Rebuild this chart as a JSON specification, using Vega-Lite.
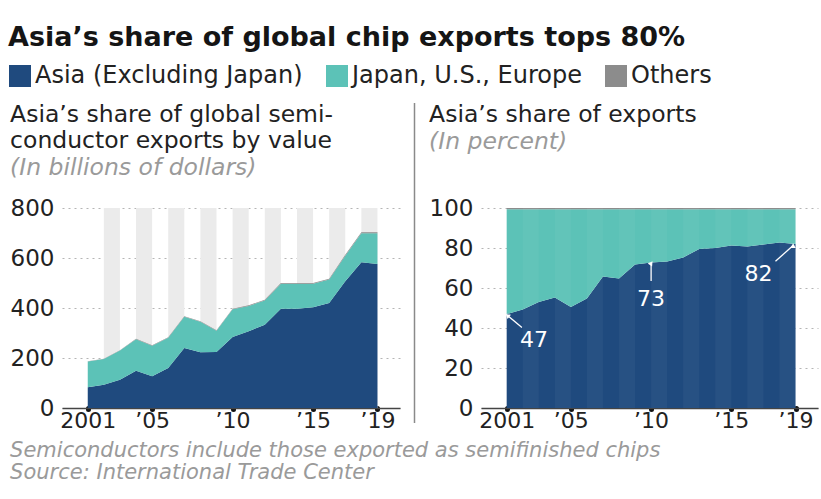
{
  "$schema": "https://vega.github.io/schema/vega-lite/v6.json",
  "padding": {"left": 8, "top": 24, "right": 4, "bottom": 4},
  "background": "white",
  "title": {
    "text": "Asia’s share of global chip exports tops 80%",
    "anchor": "start", "frame": "bounds",
    "fontSize": 27, "fontWeight": "bold", "color": "#151515", "offset": 12
  },
  "datasets": {
    "exports": [
      {"year": 2001, "region": "Asia (Excluding Japan)", "value": 83, "share": 47.0},
      {"year": 2001, "region": "Japan, U.S., Europe", "value": 102.9, "share": 52.4},
      {"year": 2001, "region": "Others", "value": 1.1, "share": 0.6},
      {"year": 2002, "region": "Asia (Excluding Japan)", "value": 93, "share": 49.2},
      {"year": 2002, "region": "Japan, U.S., Europe", "value": 102.8, "share": 50.2},
      {"year": 2002, "region": "Others", "value": 1.2, "share": 0.6},
      {"year": 2003, "region": "Asia (Excluding Japan)", "value": 113, "share": 53.0},
      {"year": 2003, "region": "Japan, U.S., Europe", "value": 116.6, "share": 46.4},
      {"year": 2003, "region": "Others", "value": 1.4, "share": 0.6},
      {"year": 2004, "region": "Asia (Excluding Japan)", "value": 149, "share": 55.3},
      {"year": 2004, "region": "Japan, U.S., Europe", "value": 126.3, "share": 44.1},
      {"year": 2004, "region": "Others", "value": 1.7, "share": 0.6},
      {"year": 2005, "region": "Asia (Excluding Japan)", "value": 127, "share": 50.5},
      {"year": 2005, "region": "Japan, U.S., Europe", "value": 122.5, "share": 48.9},
      {"year": 2005, "region": "Others", "value": 1.5, "share": 0.6},
      {"year": 2006, "region": "Asia (Excluding Japan)", "value": 160, "share": 54.7},
      {"year": 2006, "region": "Japan, U.S., Europe", "value": 121.3, "share": 44.7},
      {"year": 2006, "region": "Others", "value": 1.7, "share": 0.6},
      {"year": 2007, "region": "Asia (Excluding Japan)", "value": 240, "share": 65.8},
      {"year": 2007, "region": "Japan, U.S., Europe", "value": 124.8, "share": 33.6},
      {"year": 2007, "region": "Others", "value": 2.2, "share": 0.6},
      {"year": 2008, "region": "Asia (Excluding Japan)", "value": 223, "share": 64.7},
      {"year": 2008, "region": "Japan, U.S., Europe", "value": 121.9, "share": 34.7},
      {"year": 2008, "region": "Others", "value": 2.1, "share": 0.6},
      {"year": 2009, "region": "Asia (Excluding Japan)", "value": 224, "share": 71.7},
      {"year": 2009, "region": "Japan, U.S., Europe", "value": 85.1, "share": 27.7},
      {"year": 2009, "region": "Others", "value": 1.9, "share": 0.6},
      {"year": 2010, "region": "Asia (Excluding Japan)", "value": 284, "share": 72.8},
      {"year": 2010, "region": "Japan, U.S., Europe", "value": 110.6, "share": 26.6},
      {"year": 2010, "region": "Others", "value": 2.4, "share": 0.6},
      {"year": 2011, "region": "Asia (Excluding Japan)", "value": 307, "share": 73.3},
      {"year": 2011, "region": "Japan, U.S., Europe", "value": 101.5, "share": 26.1},
      {"year": 2011, "region": "Others", "value": 2.5, "share": 0.6},
      {"year": 2012, "region": "Asia (Excluding Japan)", "value": 333, "share": 75.3},
      {"year": 2012, "region": "Japan, U.S., Europe", "value": 97.4, "share": 24.1},
      {"year": 2012, "region": "Others", "value": 2.6, "share": 0.6},
      {"year": 2013, "region": "Asia (Excluding Japan)", "value": 397, "share": 79.5},
      {"year": 2013, "region": "Japan, U.S., Europe", "value": 100, "share": 19.9},
      {"year": 2013, "region": "Others", "value": 3.0, "share": 0.6},
      {"year": 2014, "region": "Asia (Excluding Japan)", "value": 397, "share": 80.0},
      {"year": 2014, "region": "Japan, U.S., Europe", "value": 100, "share": 19.4},
      {"year": 2014, "region": "Others", "value": 3.0, "share": 0.6},
      {"year": 2015, "region": "Asia (Excluding Japan)", "value": 403, "share": 81.2},
      {"year": 2015, "region": "Japan, U.S., Europe", "value": 94, "share": 18.2},
      {"year": 2015, "region": "Others", "value": 3.0, "share": 0.6},
      {"year": 2016, "region": "Asia (Excluding Japan)", "value": 420, "share": 80.8},
      {"year": 2016, "region": "Japan, U.S., Europe", "value": 93.9, "share": 18.6},
      {"year": 2016, "region": "Others", "value": 3.1, "share": 0.6},
      {"year": 2017, "region": "Asia (Excluding Japan)", "value": 507, "share": 81.7},
      {"year": 2017, "region": "Japan, U.S., Europe", "value": 102.3, "share": 17.7},
      {"year": 2017, "region": "Others", "value": 3.7, "share": 0.6},
      {"year": 2018, "region": "Asia (Excluding Japan)", "value": 583, "share": 82.8},
      {"year": 2018, "region": "Japan, U.S., Europe", "value": 115.8, "share": 16.6},
      {"year": 2018, "region": "Others", "value": 4.2, "share": 0.6},
      {"year": 2019, "region": "Asia (Excluding Japan)", "value": 576, "share": 82.0},
      {"year": 2019, "region": "Japan, U.S., Europe", "value": 122.8, "share": 17.4},
      {"year": 2019, "region": "Others", "value": 4.2, "share": 0.6}
    ],
    "stripes": [
      {"start": 2002, "end": 2003},
      {"start": 2004, "end": 2005},
      {"start": 2006, "end": 2007},
      {"start": 2008, "end": 2009},
      {"start": 2010, "end": 2011},
      {"start": 2012, "end": 2013},
      {"start": 2014, "end": 2015},
      {"start": 2016, "end": 2017},
      {"start": 2018, "end": 2019}
    ],
    "notes": [
      {"label": "47", "tipYear": 2001.05, "tipValue": 46.3, "tailYear": 2001.95, "tailValue": 40.2, "textYear": 2002.7, "textValue": 34},
      {"label": "73", "tipYear": 2010, "tipValue": 71.8, "tailYear": 2010, "tailValue": 63.5, "textYear": 2010, "textValue": 54.5},
      {"label": "82", "tipYear": 2018.85, "tipValue": 81.2, "tailYear": 2017.75, "tailValue": 73.4, "textYear": 2016.7, "textValue": 66.8}
    ],
    "divider": [
      {"bottom": -7.5, "top": 152.5}
    ]
  },
  "vconcat": [
    {
      "title": {
        "text": ["Semiconductors include those exported as semifinished chips", "Source: International Trade Center"],
        "orient": "bottom", "anchor": "start", "frame": "bounds",
        "fontSize": 21, "fontStyle": "italic", "fontWeight": "normal",
        "color": "#9a9a9a", "lineHeight": 22, "offset": 9
      },
      "spacing": 13,
      "hconcat": [
        {
          "width": 338, "height": 200,
          "title": {
            "text": ["Asia’s share of global semi-", "conductor exports by value"],
            "subtitle": "(In billions of dollars)",
            "offset": 18
          },
          "layer": [
            {
              "data": {"name": "stripes"},
              "mark": {"type": "rect", "color": "#ebebeb"},
              "encoding": {
                "x": {"field": "start", "type": "quantitative"},
                "x2": {"field": "end"}
              }
            },
            {
              "data": {"name": "exports"},
              "mark": {"type": "area", "interpolate": "linear"},
              "encoding": {
                "x": {
                  "field": "year", "type": "quantitative",
                  "scale": {"domain": [1999.4, 2020.4], "nice": false, "zero": false},
                  "axis": {
                    "values": [2001, 2005, 2010, 2015, 2019],
                    "labelExpr": "datum.value == 2001 ? '2001' : '’' + substring(toString(datum.value), 2)",
                    "title": null, "grid": false, "labelOverlap": false
                  }
                },
                "y": {
                  "field": "value", "type": "quantitative", "stack": "zero",
                  "scale": {"domain": [0, 800], "nice": false},
                  "axis": {"values": [0, 200, 400, 600, 800], "title": null, "grid": true, "domain": false, "ticks": false, "labelOverlap": false, "labelFontSize": 23}
                },
                "color": {
                  "field": "region", "type": "nominal",
                  "scale": {"domain": ["Asia (Excluding Japan)", "Japan, U.S., Europe", "Others"], "range": ["#1f4a7e", "#5cc2b7", "#8c8c8c"]},
                  "legend": {
                    "orient": "none", "legendX": -54, "legendY": -144,
                    "direction": "horizontal", "title": null,
                    "symbolType": "square", "symbolSize": 484, "symbolStrokeWidth": 0, "symbolOpacity": 1,
                    "labelFontSize": 24, "labelColor": "#222", "labelOffset": 3, "labelLimit": 0,
                    "columnPadding": 22
                  }
                },
                "order": {"field": "region", "sort": "ascending"}
              }
            }
          ]
        },
        {
          "width": 1, "height": 200,
          "data": {"name": "divider"},
          "mark": {"type": "rule", "color": "#8a8a8a", "strokeWidth": 1.5, "clip": false},
          "encoding": {
            "y": {"field": "bottom", "type": "quantitative", "scale": {"domain": [0, 100], "nice": false}, "axis": null},
            "y2": {"field": "top"}
          }
        },
        {
          "width": 337, "height": 200,
          "title": {
            "text": "Asia’s share of exports",
            "subtitle": ["(In percent)", " "],
            "offset": 18
          },
          "layer": [
            {
              "data": {"name": "exports"},
              "mark": {"type": "area", "interpolate": "linear"},
              "encoding": {
                "x": {
                  "field": "year", "type": "quantitative",
                  "scale": {"domain": [1999.4, 2020.4], "nice": false, "zero": false},
                  "axis": {
                    "values": [2001, 2005, 2010, 2015, 2019],
                    "labelExpr": "datum.value == 2001 ? '2001' : '’' + substring(toString(datum.value), 2)",
                    "title": null, "grid": false, "labelOverlap": false
                  }
                },
                "y": {
                  "field": "share", "type": "quantitative", "stack": "zero",
                  "scale": {"domain": [0, 100], "nice": false},
                  "axis": {"values": [0, 20, 40, 60, 80, 100], "tickCount": 6, "title": null, "grid": true, "domain": false, "ticks": false, "labelOverlap": false, "labelFontSize": 23}
                },
                "color": {"field": "region", "type": "nominal"},
                "order": {"field": "region", "sort": "ascending"}
              }
            },
            {
              "data": {"name": "stripes"},
              "mark": {"type": "rect", "color": "white", "opacity": 0.04},
              "encoding": {
                "x": {"field": "start", "type": "quantitative"},
                "x2": {"field": "end"}
              }
            },
            {
              "data": {"name": "notes"},
              "mark": {"type": "rule", "color": "white", "strokeWidth": 1.3},
              "encoding": {
                "x": {"field": "tailYear", "type": "quantitative"},
                "y": {"field": "tailValue", "type": "quantitative", "axis": {"values": [0, 20, 40, 60, 80, 100], "tickCount": 6, "title": null, "grid": true, "domain": false, "ticks": false, "labelOverlap": false, "labelFontSize": 23}},
                "x2": {"field": "tipYear"},
                "y2": {"field": "tipValue"}
              }
            },
            {
              "data": {"name": "notes"},
              "mark": {"type": "point", "shape": "triangle-up", "filled": true, "color": "white", "opacity": 1, "size": 28},
              "encoding": {
                "x": {"field": "tipYear", "type": "quantitative"},
                "y": {"field": "tipValue", "type": "quantitative", "axis": {"values": [0, 20, 40, 60, 80, 100], "tickCount": 6, "title": null, "grid": true, "domain": false, "ticks": false, "labelOverlap": false, "labelFontSize": 23}},
                "angle": {"field": "label", "type": "nominal", "scale": {"domain": ["47", "73", "82"], "range": [310, 0, 49]}, "legend": null}
              }
            },
            {
              "data": {"name": "notes"},
              "mark": {"type": "text", "color": "white", "fontSize": 22, "align": "center", "baseline": "middle"},
              "encoding": {
                "x": {"field": "textYear", "type": "quantitative"},
                "y": {"field": "textValue", "type": "quantitative", "axis": {"values": [0, 20, 40, 60, 80, 100], "tickCount": 6, "title": null, "grid": true, "domain": false, "ticks": false, "labelOverlap": false, "labelFontSize": 23}},
                "text": {"field": "label"}
              }
            }
          ]
        }
      ]
    }
  ],
  "config": {
    "font": "DejaVu Sans",
    "view": {"stroke": null},
    "concat": {"spacing": 4},
    "title": {
      "anchor": "start", "frame": "bounds",
      "fontSize": 23.5, "fontWeight": "normal", "color": "#222", "lineHeight": 26,
      "subtitleFontSize": 23.5, "subtitleFontStyle": "italic", "subtitleColor": "#9a9a9a",
      "subtitleLineHeight": 26, "subtitlePadding": 0
    },
    "axis": {
      "labelFont": "DejaVu Sans", "labelFontSize": 22, "labelColor": "#222",
      "gridColor": "#b5b5b5", "gridDash": [2, 4], "gridWidth": 1,
      "labelPadding": 8, "labelOverlap": false, "labelBound": false
    },
    "axisY": {"labelOverlap": false},
    "axisX": {
      "domainColor": "#444", "domainWidth": 1.5,
      "tickColor": "#111", "tickSize": 1, "tickWidth": 5, "tickCap": "round",
      "labelPadding": 1
    },
    "legend": {"labelFont": "DejaVu Sans"}
  }
}
